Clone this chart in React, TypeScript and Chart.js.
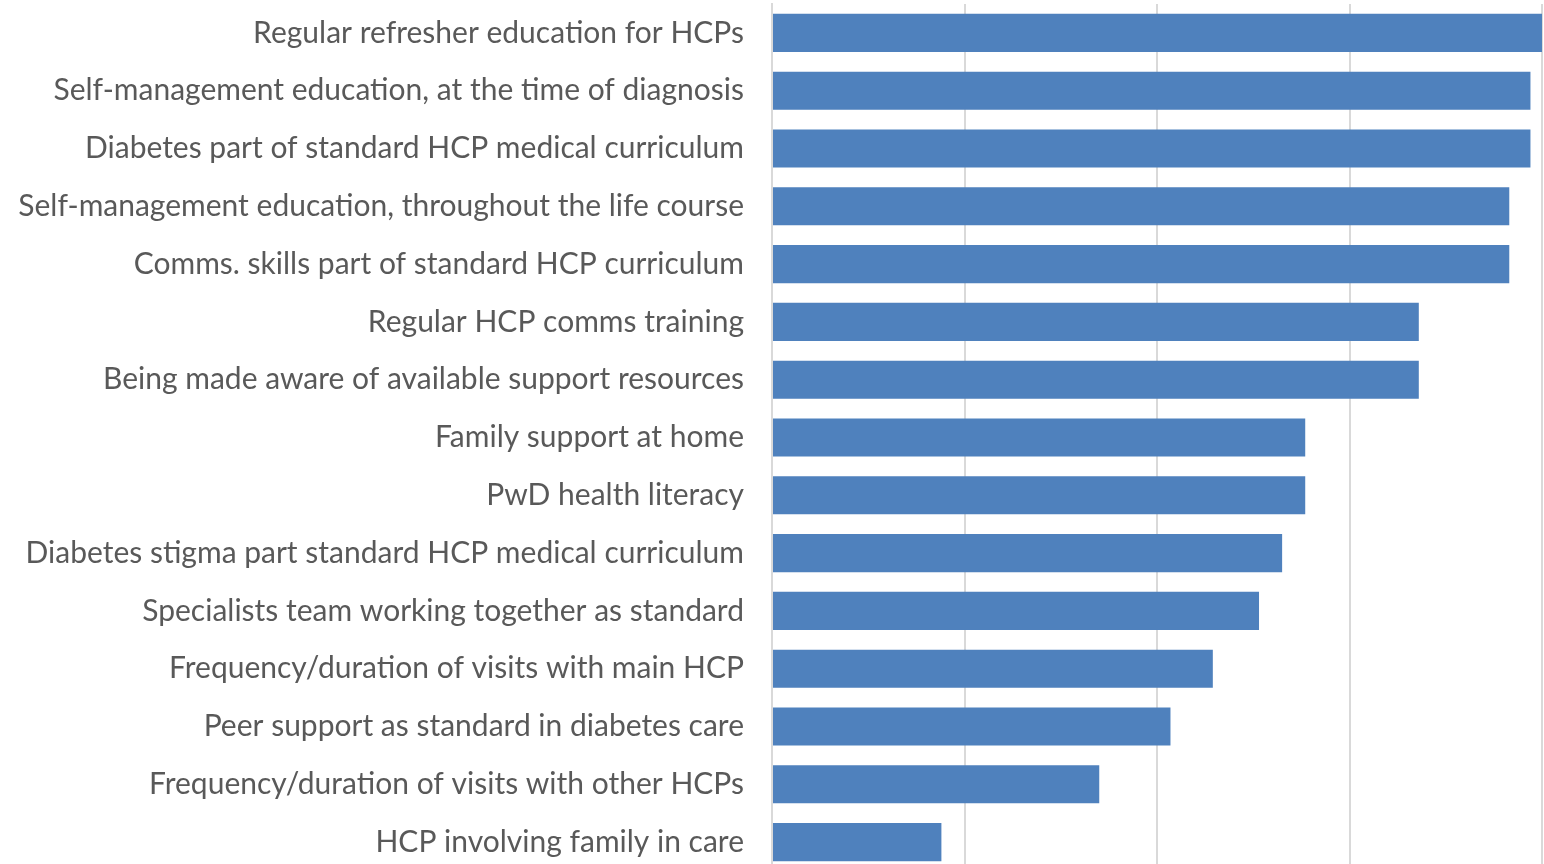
import React, { useEffect, useRef } from "react";
import { Chart, registerables } from "chart.js";

Chart.register(...registerables);

const categories: string[] = [
  "Regular refresher education for HCPs",
  "Self-management education, at the time of diagnosis",
  "Diabetes part of standard HCP medical curriculum",
  "Self-management education, throughout the life course",
  "Comms. skills part of standard HCP curriculum",
  "Regular HCP comms training",
  "Being made aware of available support resources",
  "Family support at home",
  "PwD health literacy",
  "Diabetes stigma part standard HCP medical curriculum",
  "Specialists team working together as standard",
  "Frequency/duration of visits with main HCP",
  "Peer support as standard in diabetes care",
  "Frequency/duration of visits with other HCPs",
  "HCP involving family in care",
];

const values: number[] = [40, 39.4, 39.4, 38.3, 38.3, 33.6, 33.6, 27.7, 27.7, 26.5, 25.3, 22.9, 20.7, 17.0, 8.8];

const xTicks = { min: 0, max: 40, step: 10 };

export default function App() {
  const ref = useRef<HTMLCanvasElement | null>(null);
  useEffect(() => {
    if (!ref.current) return;
    const chart = new Chart(ref.current, {
      type: "bar",
      data: {
        labels: categories,
        datasets: [
          {
            data: values,
            backgroundColor: "#4F81BD",
            borderWidth: 0,
            barPercentage: 0.66,
            categoryPercentage: 1,
          },
        ],
      },
      options: {
        indexAxis: "y",
        animation: false,
        responsive: false,
        maintainAspectRatio: false,
        layout: { padding: { top: 4, bottom: 9, left: 0, right: 2 } },
        plugins: { legend: { display: false }, tooltip: { enabled: false } },
        scales: {
          x: {
            min: xTicks.min,
            max: xTicks.max,
            ticks: { display: false, stepSize: xTicks.step },
            grid: { color: "#D9D9D9", lineWidth: 2, drawTicks: false },
            border: { display: false },
            afterFit: (scale: any) => {
              scale.height = 0;
              scale.paddingLeft = 0;
              scale.paddingRight = 0;
            },
          },
          y: {
            afterFit: (scale: any) => {
              scale.width = 772;
              scale.paddingTop = 0;
              scale.paddingBottom = 0;
            },
            grid: { display: false, drawTicks: false },
            border: { display: true, color: "#D9D9D9", width: 2 },
            ticks: {
              color: "#595959",
              padding: 28,
              font: { family: "Lato", size: 30 },
              autoSkip: false,
            },
          },
        },
      },
    });
    return () => chart.destroy();
  }, []);
  return (
    <div style={{ position: "fixed", left: 0, top: 0, width: 1544, height: 864, overflow: "hidden", background: "#fff" }}>
      <canvas ref={ref} width={1544} height={880} style={{ display: "block" }} />
    </div>
  );
}
